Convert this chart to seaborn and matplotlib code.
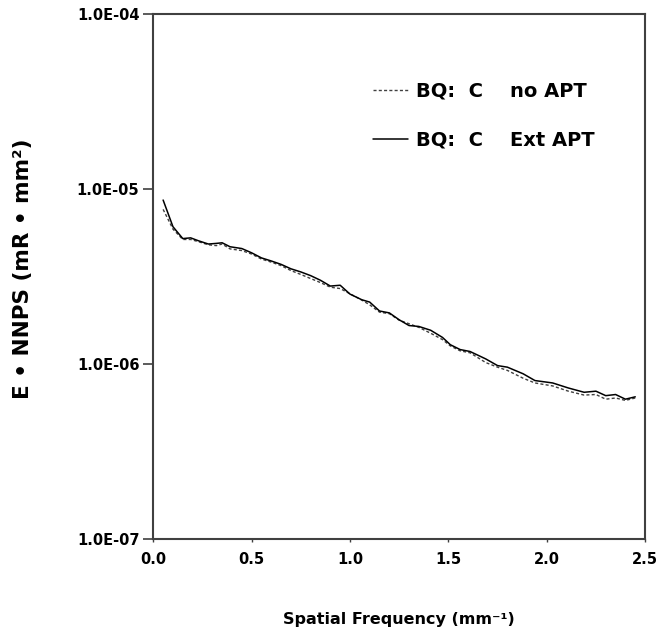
import numpy as np
import pandas as pd
import matplotlib
matplotlib.use("Agg")
import matplotlib.pyplot as plt
import matplotlib.ticker as mticker
import seaborn as sns

# spatial frequency (mm^-1)
freq = [0.05, 0.10, 0.15, 0.19, 0.23, 0.28, 0.32, 0.35, 0.39, 0.45,
        0.50, 0.55, 0.60, 0.65, 0.70, 0.75, 0.80, 0.85, 0.90, 0.95,
        1.00, 1.06, 1.10, 1.15, 1.20, 1.25, 1.30, 1.35, 1.41, 1.47,
        1.51, 1.56, 1.61, 1.69, 1.75, 1.80, 1.88, 1.94, 2.03, 2.11,
        2.19, 2.25, 2.30, 2.35, 2.40, 2.45]

# E * NNPS, units of 1e-6 mR mm^2
ext_apt = [8.65, 6.09, 5.21, 5.26, 5.06, 4.85, 4.89, 4.93, 4.68, 4.57,
           4.32, 4.04, 3.88, 3.71, 3.50, 3.36, 3.20, 3.01, 2.79, 2.82,
           2.51, 2.33, 2.26, 2.01, 1.96, 1.79, 1.66, 1.64, 1.56, 1.42,
           1.29, 1.21, 1.18, 1.07, 0.98, 0.96, 0.88, 0.805, 0.78, 0.73,
           0.69, 0.70, 0.66, 0.67, 0.63, 0.65]
no_apt = [7.65, 5.90, 5.15, 5.15, 5.00, 4.80, 4.75, 4.85, 4.55, 4.45,
          4.25, 3.98, 3.82, 3.65, 3.42, 3.25, 3.08, 2.92, 2.75, 2.70,
          2.52, 2.32, 2.18, 1.98, 1.94, 1.78, 1.70, 1.62, 1.50, 1.38,
          1.27, 1.19, 1.16, 1.02, 0.96, 0.92, 0.83, 0.78, 0.75, 0.70,
          0.665, 0.67, 0.63, 0.64, 0.62, 0.64]

labels = ["BQ:  C    no APT", "BQ:  C    Ext APT"]
yticks = [1e-7, 1e-6, 1e-5, 1e-4]
xticks = [0.0, 0.5, 1.0, 1.5, 2.0, 2.5]

sns.set_theme(style="white")
plt.rcParams["font.family"] = ["DejaVu Sans"]
plt.rcParams["font.weight"] = "bold"
for k in ["text.color", "axes.labelcolor", "xtick.labelcolor", "ytick.labelcolor"]:
    plt.rcParams[k] = "black"

df_no = pd.DataFrame({"f": freq, "nnps": np.array(no_apt) * 1e-6})
df_ext = pd.DataFrame({"f": freq, "nnps": np.array(ext_apt) * 1e-6})

fig = plt.figure(figsize=(6.63, 6.35), dpi=100)
ax = fig.add_axes([0.2312, 0.151, 0.7418, 0.827])

sns.lineplot(data=df_no, x="f", y="nnps", ax=ax, color="#404040",
             lw=1.0, linestyle=(0, (2.2, 1.6)), label=labels[0])
sns.lineplot(data=df_ext, x="f", y="nnps", ax=ax, color="black",
             lw=1.1, label=labels[1])

ax.set_yscale("log")
ax.set_ylim(1e-7, 1e-4)
ax.set_xlim(0, 2.5)
ax.set_yticks(yticks)
ax.yaxis.set_minor_locator(mticker.NullLocator())
ax.yaxis.set_major_formatter(mticker.FuncFormatter(lambda v, p: f"{v:.1E}"))
ax.set_xticks(xticks)
ax.set_xticklabels([f"{v:.1f}" for v in xticks])

for s in ax.spines.values():
    s.set_color("#404040")
    s.set_linewidth(1.5)
ax.tick_params(axis="y", which="major", direction="out", length=7,
               width=1.2, color="#404040", pad=3, labelsize=10.5, left=True)
ax.tick_params(axis="x", which="major", direction="out", length=2,
               width=1.0, color="#404040", pad=7, labelsize=10.5, bottom=True)
for t in ax.get_xticklabels() + ax.get_yticklabels():
    t.set_fontweight("bold")

ax.set_xlabel("Spatial Frequency (mm⁻¹)", fontsize=11.5, fontweight="bold",
              labelpad=33)
ax.set_ylabel("E • NNPS (mR • mm²)", fontsize=15.5, fontweight="bold")
ax.yaxis.set_label_coords(-0.245, 0.515)

leg = ax.legend(loc="upper left", bbox_to_anchor=(0.412, 0.905),
                frameon=False, prop=dict(size=14, weight="bold"),
                handlelength=1.8, handletextpad=0.4, labelspacing=1.55)

fig.savefig("out.png", dpi=100)
